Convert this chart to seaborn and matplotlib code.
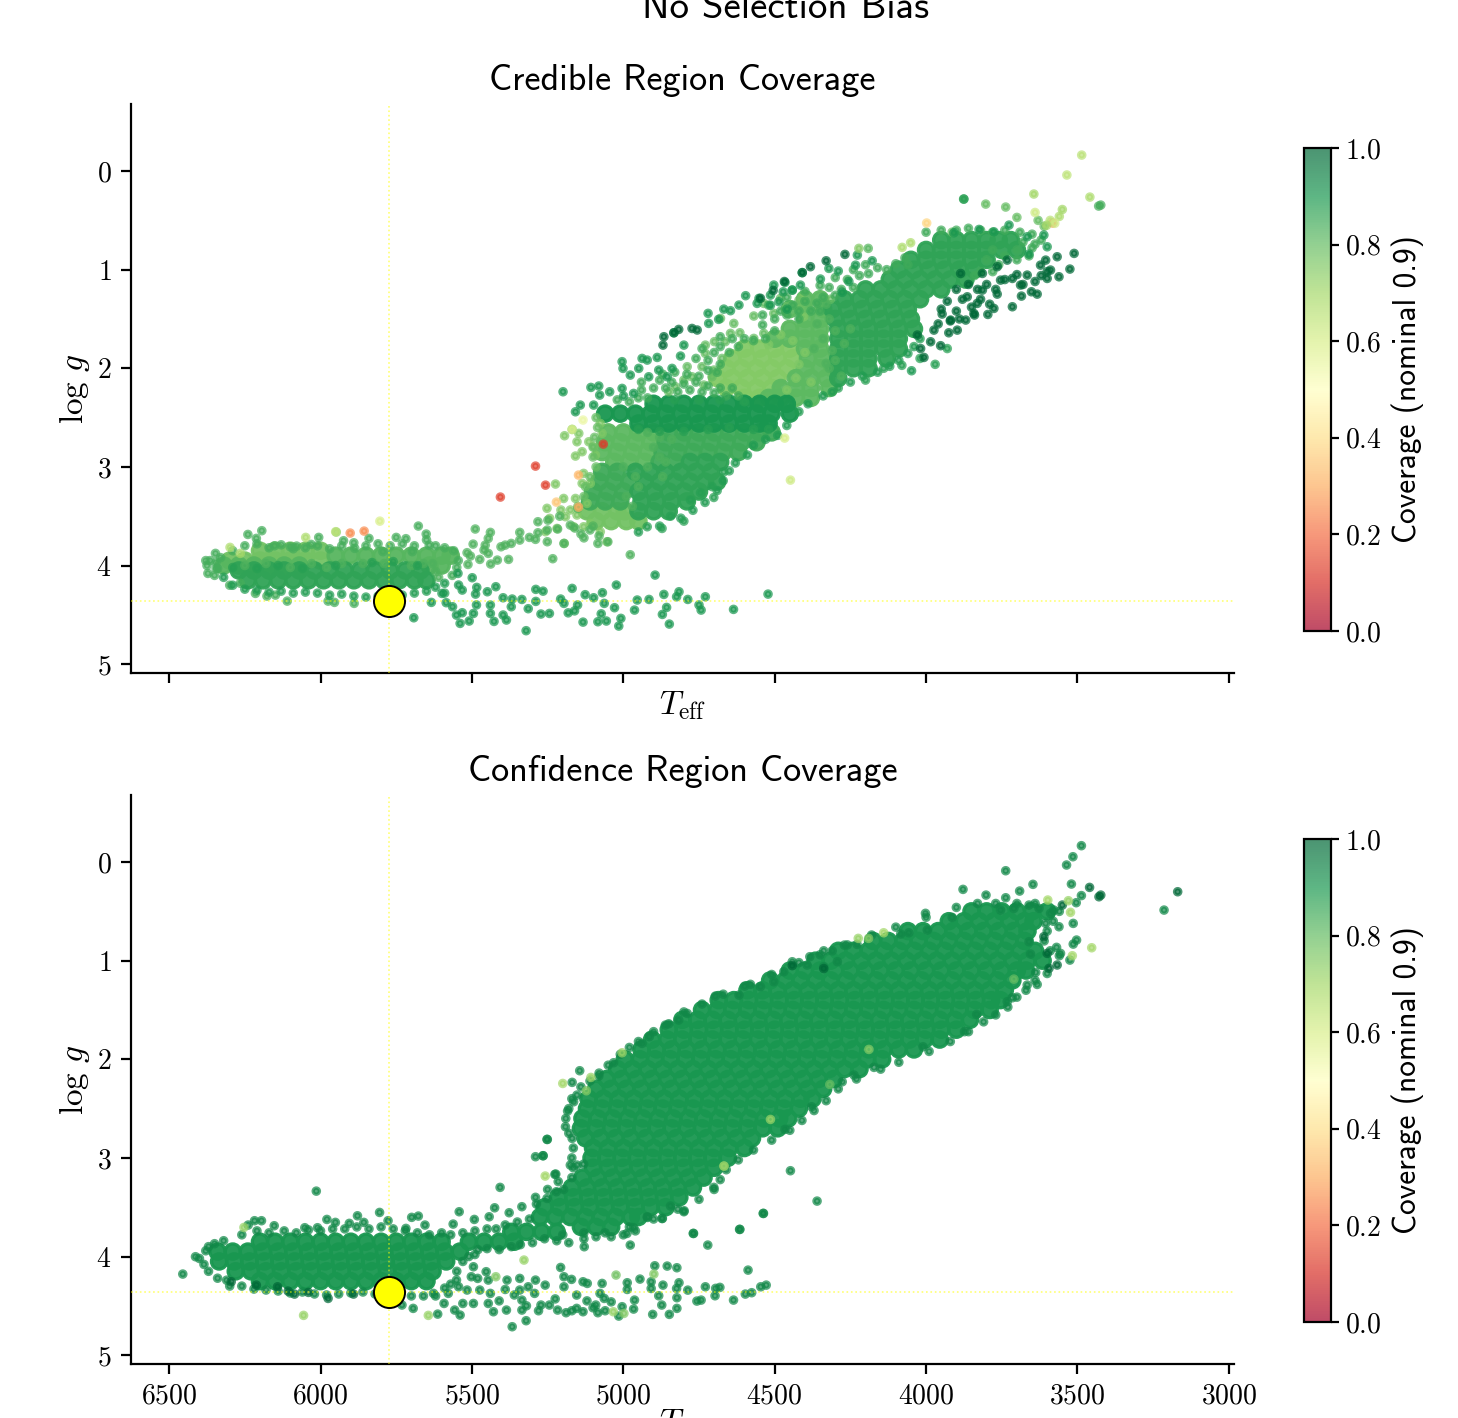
import matplotlib
matplotlib.use("Agg")
import matplotlib.pyplot as plt
import pandas as pd
import seaborn as sns
from matplotlib.cm import ScalarMappable
from matplotlib.colors import Normalize

SUN_TEFF = 5773
SUN_LOGG = 4.36
CBAR_TICKS = [0.0, 0.2, 0.4, 0.6, 0.8, 1.0]
X_TICKS = [6500, 6000, 5500, 5000, 4500, 4000, 3500, 3000]
Y_TICKS = [0, 1, 2, 3, 4, 5]

# ---- credible panel: dense parts, logg row -> teff values
cred_core_light = {
    1.8: [4600, 4550, 4500, 4450],
    1.9: [4640, 4590, 4540, 4490, 4440],
    2.0: [4660, 4610, 4560, 4510, 4460],
    2.1: [4690, 4640, 4590, 4540, 4490],
    2.2: [4660, 4610, 4560, 4510],
    2.3: [4600, 4550],
}
cred_core_mid = {
    1.3: [4350, 4400],
    1.4: [4340, 4400, 4450],
    1.5: [4400, 4350],
    1.6: [4450, 4400, 4350],
    1.7: [4500, 4450, 4400, 4350],
    1.8: [4400, 4350],
    1.9: [4390, 4340],
    2.0: [4400, 4350, 4310],
    2.1: [4430, 4380, 4330],
    2.2: [4480, 4430, 4380, 4320],
    2.3: [4520, 4480, 4430, 4380],
    2.65: [5050, 5000, 4950, 4900],
    2.75: [5060, 5010, 4960, 4910],
    2.85: [5070, 5020, 4970, 4920],
    2.95: [5030, 4980, 4930],
}
cred_core_deep = {
    0.7: [3950, 3900, 3850, 3800, 3760, 3720],
    0.8: [4000, 3950, 3900, 3850, 3800, 3750, 3700],
    0.9: [4050, 4000, 3950, 3900, 3850, 3800],
    1.0: [4090, 4040, 3990, 3940, 3890, 3840],
    1.1: [4120, 4070, 4020, 3970, 3920, 3870],
    1.2: [4200, 4150, 4100, 4050, 4000, 3950],
    1.3: [4270, 4220, 4170, 4120, 4070, 4020],
    1.4: [4310, 4260, 4210, 4160, 4110, 4060],
    1.5: [4300, 4250, 4200, 4150, 4100, 4050],
    1.6: [4290, 4240, 4190, 4140, 4090, 4040],
    1.7: [4290, 4240, 4190, 4140, 4090],
    1.8: [4290, 4240, 4190, 4140, 4090],
    1.9: [4290, 4240, 4190, 4130],
    2.0: [4290, 4240, 4190],
    2.1: [4290],
    4.05: [6270, 6220, 6170, 6120, 6070, 6020, 5970, 5920, 5870, 5820, 5770, 5720, 5670],
    4.15: [6240, 6190, 6140, 6090, 6040, 5990, 5940, 5890, 5840, 5790, 5740, 5690, 5650],
    2.95: [4780, 4730, 4680],
    3.05: [4960, 4910, 4860, 4810, 4760, 4710],
    3.15: [4930, 4880, 4830, 4780, 4730, 4690],
    3.25: [4950, 4900, 4850, 4800, 4750],
    3.35: [4940, 4890, 4840, 4790],
    3.45: [4950, 4900, 4850],
}
cred_core_band = {
    2.36: [4900, 4850, 4800, 4750, 4700, 4650, 4600, 4550, 4500, 4460],
    2.46: [5060, 5010, 4960, 4910, 4860, 4810, 4760, 4710, 4660, 4610, 4560, 4510, 4450],
    2.56: [4950, 4900, 4850, 4800, 4750, 4700, 4650, 4600, 4550, 4520],
}
cred_core_body = {
    2.65: [4850, 4800, 4750, 4700, 4650, 4600, 4550, 4510],
    2.75: [4860, 4810, 4760, 4710, 4660, 4610, 4560],
    2.85: [4870, 4820, 4770, 4720, 4670, 4620],
    2.95: [4880, 4830],
    3.05: [5070, 5020],
    3.15: [5080, 5030, 4980],
    3.25: [5100, 5050, 5000],
    3.35: [5110, 5060, 5010],
}
cred_core_pale = {
    3.45: [5120, 5070, 5020, 4995],
    3.55: [5090, 5040, 4990, 4950],
    3.85: [6200, 6150, 6100, 6050, 6000],
    3.95: [6300, 6250, 6200, 6150, 6100, 6050, 6000],
}
cred_core_dwarf = {
    3.9: [5950, 5900, 5850, 5800, 5750, 5700, 5650, 5600, 5570],
    4.0: [6320, 6270, 6220, 6170, 6120, 6070, 5640, 5600],
}

# ---- credible panel: points read one by one
cred_dwarf_teff = [4522, 4636, 4729, 4743, 4750, 4787, 4816, 4824, 4848, 4857, 4866, 4871, 4915, 4954, 4963, 4895, 5008, 5015, 5029, 5023, 5069, 5063, 5073, 5084, 5056, 5098, 5126, 5151, 5161, 5182, 5133, 5169, 5207, 5196, 5244, 5272, 5265, 5289, 5289, 5314, 5321, 5335, 5367, 5397, 5370, 5386, 5427, 5397, 5421, 5439, 5439, 5449, 5484, 5488, 5485, 5499, 5495, 5509, 5539, 5532, 5551, 5564, 5546, 5544, 5532, 5599, 5585, 5634, 5692]
cred_dwarf_logg = [4.29, 4.445, 4.317, 4.452, 4.4, 4.344, 4.266, 4.317, 4.594, 4.425, 4.293, 4.496, 4.344, 4.35, 4.452, 4.097, 4.536, 4.614, 4.428, 4.198, 4.276, 4.384, 4.49, 4.57, 4.563, 4.327, 4.296, 4.4, 4.46, 4.48, 4.574, 4.232, 4.34, 4.384, 4.486, 4.492, 4.26, 4.242, 4.364, 4.438, 4.661, 4.344, 4.34, 4.327, 4.418, 4.553, 4.567, 4.502, 4.215, 4.401, 4.486, 4.266, 4.222, 4.29, 4.4, 4.124, 4.486, 4.563, 4.587, 4.479, 4.503, 4.418, 4.08, 4.198, 4.249, 4.283, 4.377, 4.374, 4.53]
cred_wing_teff = [5489, 5439, 5446, 5456, 5460, 5446, 5496, 5516, 5505, 5474, 5513, 5438, 5416, 5379, 5233, 4977, 5404, 5390, 5370, 5342, 5310, 5290, 5342, 5282, 5251, 5249, 5282, 5217, 5251, 5196, 5051, 5084, 5175, 5140, 5110, 5080, 5130, 5160, 5210, 5100, 5150]
cred_wing_logg = [3.63, 3.664, 3.725, 3.793, 3.843, 3.877, 3.783, 3.87, 3.904, 3.938, 3.989, 3.985, 3.945, 3.938, 3.931, 3.891, 3.81, 3.793, 3.776, 3.742, 3.715, 3.735, 3.664, 3.668, 3.64, 3.54, 3.556, 3.63, 3.759, 3.776, 3.759, 3.776, 3.59, 3.68, 3.64, 3.7, 3.72, 3.62, 3.5, 3.6, 3.42]
cred_dark_teff = [3511, 3525, 3561, 3567, 3600, 3605, 3622, 3589, 3633, 3652, 3666, 3685, 3715, 3688, 3715, 3754, 3765, 3776, 3796, 3814, 3842, 3869, 3897, 3925, 3919, 3947, 3952, 3974, 3985, 4007, 4018, 4029, 3831, 3864, 3886, 3814, 3765, 3732, 4268, 4330, 4382, 4409, 4468, 4505, 4547, 4866, 4869, 4833, 4773, 4756, 4817, 3700, 3740, 3680, 3640, 3600, 3620, 3800, 3770, 3830, 3860, 3900, 3880, 3820, 3790, 3850, 3900, 3930, 3950, 3960, 3920, 3890, 3840]
cred_dark_logg = [0.835, 0.994, 1.072, 0.869, 1.089, 0.903, 0.954, 1.004, 1.248, 1.224, 1.055, 1.268, 1.376, 1.156, 1.089, 1.106, 1.248, 1.393, 1.454, 1.207, 1.444, 1.511, 1.613, 1.64, 1.511, 1.45, 1.771, 1.613, 1.731, 1.89, 1.8, 1.663, 1.342, 1.275, 1.038, 1.038, 0.97, 0.903, 0.845, 0.91, 0.97, 1.03, 1.12, 1.21, 1.29, 1.68, 1.765, 1.64, 1.596, 1.612, 1.606, 1.05, 1.1, 1.15, 1.12, 1.02, 1.06, 1.15, 1.2, 1.2, 1.15, 1.2, 1.3, 1.3, 1.35, 1.38, 1.42, 1.32, 1.4, 1.55, 1.52, 1.5, 1.46]
cred_strand_teff = [4409, 4466, 4442, 4415, 4503, 4514, 4552, 4596, 4558, 4618, 4646, 4668, 4720, 4685, 4718, 4833, 4800, 4888, 4921, 4938, 5004, 5001, 4949, 4977, 4916, 5004, 4883, 4839, 4811, 4855, 5045, 5081, 5107, 5078, 5199, 4966, 4999, 5142, 5158, 5098, 4321, 4227, 4178, 4233, 4290, 4349, 4442, 4472, 4486, 4459, 4514, 4277, 4255, 4048, 3875, 3908, 3825, 3776, 3726, 3611, 3666, 3600, 3660]
cred_strand_logg = [1.03, 1.129, 1.207, 1.156, 1.156, 1.258, 1.291, 1.264, 1.342, 1.359, 1.416, 1.4, 1.443, 1.504, 1.545, 1.64, 1.765, 1.89, 1.917, 1.9, 1.933, 2.001, 2.001, 2.069, 2.086, 2.204, 2.018, 2.001, 1.876, 2.086, 2.238, 2.18, 2.194, 2.272, 2.238, 2.255, 2.282, 2.373, 2.441, 2.373, 0.987, 0.852, 0.91, 0.954, 1.014, 1.095, 1.207, 1.224, 1.325, 1.4, 1.36, 1.23, 1.12, 2.025, 0.284, 0.626, 0.592, 0.616, 0.548, 0.649, 0.666, 0.768, 0.842]
cred_upper_teff = [4729, 4729, 4699, 4663, 4646, 4615, 4569, 4536, 4635, 4679, 4569, 4503, 4459, 4536, 4481, 4674, 4701, 4707, 4734, 4789, 4740, 4773, 4800, 4828, 4850, 4420, 4409, 4316, 3803, 3737, 3914, 3700, 3630, 3610, 5090, 5085, 5095, 5100, 5100, 5090, 5110, 5125, 5130, 5150]
cred_upper_logg = [1.765, 1.849, 1.73, 1.73, 1.646, 1.64, 1.697, 1.646, 1.545, 1.494, 1.47, 1.443, 1.4, 1.342, 1.291, 1.9, 2.018, 2.086, 2.17, 1.984, 1.984, 2.086, 2.12, 2.187, 2.238, 1.31, 1.393, 1.3, 0.335, 0.365, 0.62, 0.47, 0.5, 0.56, 2.5, 2.6, 2.7, 2.8, 2.9, 3.0, 3.1, 3.2, 3.3, 3.4]
cred_fill_teff = [4940, 4900, 4860, 4820, 4780, 4740, 4700, 4660, 4620, 4940, 4880, 4840, 4800, 4760, 4720, 4680, 4640, 4870, 4830, 4790, 4750, 4720, 4690, 4680, 4720, 4760, 4700, 4740, 4680, 4650, 4620, 4600, 4570, 4530, 4640, 4680, 5020, 4980, 4950, 4920, 4500, 4540, 4500, 4460, 4420, 4380, 4440, 4400, 4360, 4340, 4300, 4320, 4280, 4260, 4240, 4220, 4190, 4160, 4130, 4100, 4070, 4060, 4200, 4240, 4300, 4350, 4400, 4460, 4520, 4480, 4540, 4350, 4420, 4000, 3950, 3900, 3860, 3820, 3780, 3740, 3690, 3650, 3620, 3640, 3680, 3700, 3650, 3660, 3700, 3740, 3780, 3760, 3800, 3820, 3780, 3840]
cred_fill_logg = [2.22, 2.2, 2.2, 2.24, 2.22, 2.24, 2.25, 2.28, 2.28, 2.14, 2.12, 2.14, 2.16, 2.14, 2.18, 2.2, 2.2, 2.06, 2.04, 2.06, 2.08, 2.02, 2.04, 1.96, 1.92, 1.9, 1.84, 1.8, 1.78, 1.84, 1.78, 1.7, 1.72, 1.7, 1.7, 1.68, 2.32, 2.34, 2.3, 2.3, 1.62, 1.56, 1.5, 1.46, 1.5, 1.42, 1.36, 1.32, 1.34, 1.28, 1.26, 1.18, 1.2, 1.1, 1.18, 1.06, 1.04, 0.98, 1.0, 0.94, 0.88, 0.95, 0.95, 1.0, 1.08, 1.16, 1.22, 1.28, 1.36, 1.42, 1.46, 1.42, 1.42, 0.62, 0.6, 0.6, 0.58, 0.6, 0.62, 0.6, 0.62, 0.64, 0.7, 0.74, 0.72, 0.8, 0.78, 0.86, 0.9, 0.86, 0.8, 0.95, 0.9, 1.02, 1.02, 1.06]
cred_lower_teff = [4020, 4040, 4060, 4090, 4120, 4160, 4210, 4250, 4310, 4340, 4390, 4420, 4460, 4490, 4530, 4570, 4590, 4630, 4650, 4670, 4690, 4730, 4770, 4810, 4880, 4950, 6320, 6290, 6250, 6210, 6170, 6130, 6090, 6050, 6010, 5970, 5930, 5890, 5850, 5810, 5770, 5730, 5690, 5650, 5620, 5590, 5590]
cred_lower_logg = [1.7, 1.78, 1.85, 1.92, 1.98, 2.04, 2.08, 2.14, 2.24, 2.28, 2.36, 2.44, 2.58, 2.68, 2.72, 2.78, 2.88, 2.96, 3.04, 3.14, 3.24, 3.36, 3.44, 3.52, 3.6, 3.66, 4.12, 4.2, 4.24, 4.25, 4.27, 4.26, 4.28, 4.27, 4.28, 4.3, 4.29, 4.31, 4.32, 4.31, 4.33, 4.3, 4.28, 4.26, 4.22, 4.28, 4.18]
cred_left_teff = [5169, 5147, 5194, 5153, 5114, 5136, 5158, 5092, 5076, 5070, 5098, 5224, 5131, 5136, 5109, 5158, 5197, 5252, 5206, 5153, 5243, 5219, 5257, 5195, 5131, 5054, 5109, 5164, 5191, 5076, 5120, 5175, 4415, 4409, 4404]
cred_left_logg = [2.62, 2.66, 2.684, 2.745, 2.745, 2.846, 2.89, 2.88, 2.559, 2.66, 2.795, 3.174, 3.066, 3.167, 3.167, 3.32, 3.32, 3.42, 3.437, 3.488, 3.522, 3.624, 3.657, 3.776, 3.607, 3.759, 3.573, 3.607, 3.505, 3.657, 3.37, 3.437, 1.393, 1.291, 1.477]
cred_low_teff = [6240, 6194, 6212, 6152, 6100, 6079, 6006, 6031, 5924, 5840, 5887, 5750, 5718, 5677, 5651, 5641, 5697, 5794, 6379, 6347, 6372, 6265, 6215, 6149, 6110, 5975, 5954, 5889, 6177, 6340, 6300, 6290, 6250, 6210, 6170, 6130, 6090, 6050, 6010, 5970, 5930, 5890, 5850, 5810, 5770, 5730, 5690, 5650, 5620, 5590, 5560, 5545, 5550, 5565, 6375, 6365, 6345, 6345, 6330, 6350]
cred_low_logg = [3.685, 3.647, 3.725, 3.8, 3.81, 3.803, 3.715, 3.786, 3.749, 3.725, 3.826, 3.715, 3.728, 3.6, 3.681, 3.793, 3.86, 3.86, 3.95, 3.877, 4.08, 4.18, 4.283, 4.3, 4.361, 4.361, 4.374, 4.384, 4.31, 4.03, 4.2, 3.85, 3.8, 3.78, 3.82, 3.79, 3.83, 3.82, 3.8, 3.83, 3.8, 3.77, 3.8, 3.78, 3.8, 3.78, 3.8, 3.74, 3.8, 3.82, 3.85, 3.95, 4.02, 4.1, 4.0, 3.95, 4.03, 3.97, 3.92, 4.1]
cred_deep_teff = [4800, 4872, 4921, 4701, 4745, 4707, 4844, 4668, 4778, 3970, 3930, 4020, 4080, 4140, 4200, 4290]
cred_deep_logg = [3.55, 3.624, 3.607, 3.31, 3.262, 3.2, 3.5, 3.05, 3.336, 1.96, 1.8, 1.9, 1.97, 2.0, 2.12, 2.2]
cred_blend_teff = [4330, 4320, 4300, 4340, 4310, 4300, 4320, 4280, 4270, 4250, 4360, 4370, 4330, 4880, 4900, 4880, 4920, 4870, 4960, 4950, 4990, 4970, 5000, 4840, 4860, 4920, 6250, 6180, 6100, 6030, 5980, 5930, 5860, 5790, 5700, 5660, 5620, 5610, 5630]
cred_blend_logg = [1.35, 1.5, 1.62, 1.7, 1.82, 1.92, 2.0, 2.08, 1.75, 1.6, 1.55, 1.8, 1.95, 2.7, 2.8, 2.9, 3.0, 3.1, 3.1, 3.2, 3.3, 3.4, 3.0, 2.72, 2.95, 2.65, 4.0, 3.98, 4.02, 3.98, 4.02, 3.98, 3.98, 3.98, 4.0, 3.98, 4.06, 4.12, 3.98]
cred_speck_teff = [4950, 4880, 4800, 4720, 4650, 4570, 4520, 4830, 4750, 4680, 4600, 6290, 6210, 6140, 6060, 5950, 5830, 5760, 5680]
cred_speck_logg = [2.62, 2.64, 2.64, 2.62, 2.6, 2.62, 2.62, 2.32, 2.32, 2.32, 2.34, 4.02, 4.03, 4.0, 4.03, 4.0, 3.97, 3.96, 4.0]
cred_pale_teff = [4460, 4430, 4420, 4400, 4440, 4480, 4520, 4380]
cred_pale_logg = [2.22, 2.1, 1.96, 1.84, 1.72, 1.66, 1.76, 2.14]
cred_odd_teff = [5406, 5290, 5257, 5148, 5221, 5148, 5066, 5856, 5902, 5804, 5948, 3998, 3582, 4448, 3486, 3535, 3459, 3423, 3430, 3644, 4467, 3876, 5133, 5169, 6299, 6049, 5950, 6265, 4051, 4079, 4222, 4191, 3640, 3590, 3560, 3550, 3575, 3602]
cred_odd_logg = [3.306, 2.992, 3.185, 3.083, 3.357, 3.408, 2.769, 3.651, 3.671, 3.55, 3.661, 0.527, 0.527, 3.134, -0.162, 0.04, 0.264, 0.345, 0.355, 0.233, 2.708, 0.284, 2.525, 2.62, 3.816, 3.715, 3.657, 3.877, 0.727, 0.774, 0.784, 0.784, 0.42, 0.5, 0.46, 0.39, 0.53, 0.55]
cred_odd_cov = [0.13, 0.13, 0.13, 0.32, 0.35, 0.3, 0.12, 0.25, 0.25, 0.6, 0.74, 0.38, 0.25, 0.62, 0.66, 0.65, 0.68, 0.84, 0.84, 0.7, 0.6, 0.87, 0.55, 0.6, 0.68, 0.68, 0.66, 0.7, 0.68, 0.68, 0.75, 0.82, 0.62, 0.66, 0.68, 0.7, 0.62, 0.7]

# ---- confidence panel: dense part, logg row -> teff values
conf_core = {
    0.5: [3850, 3800, 3750, 3700, 3650, 3600],
    0.6: [3925, 3875, 3825, 3775, 3725, 3675, 3645],
    0.7: [4060, 4010, 3960, 3910, 3860, 3810, 3760, 3710, 3665],
    0.8: [4175, 4125, 4075, 4025, 3975, 3925, 3875, 3825, 3775, 3725, 3675],
    0.9: [4290, 4240, 4190, 4140, 4090, 4040, 3990, 3940, 3890, 3840, 3790, 3740, 3690, 3640],
    1.0: [4365, 4315, 4265, 4215, 4165, 4115, 4065, 4015, 3965, 3915, 3865, 3815, 3765, 3715, 3665, 3615],
    1.1: [4450, 4400, 4350, 4300, 4250, 4200, 4150, 4100, 4050, 4000, 3950, 3900, 3850, 3800, 3750, 3700, 3670],
    1.2: [4515, 4465, 4415, 4365, 4315, 4265, 4215, 4165, 4115, 4065, 4015, 3965, 3915, 3865, 3815, 3765, 3715],
    1.3: [4590, 4540, 4490, 4440, 4390, 4340, 4290, 4240, 4190, 4140, 4090, 4040, 3990, 3940, 3890, 3840, 3790, 3740],
    1.4: [4685, 4635, 4585, 4535, 4485, 4435, 4385, 4335, 4285, 4235, 4185, 4135, 4085, 4035, 3985, 3935, 3885, 3835, 3785, 3755],
    1.5: [4740, 4690, 4640, 4590, 4540, 4490, 4440, 4390, 4340, 4290, 4240, 4190, 4140, 4090, 4040, 3990, 3940, 3890, 3840, 3790],
    1.6: [4805, 4755, 4705, 4655, 4605, 4555, 4505, 4455, 4405, 4355, 4305, 4255, 4205, 4155, 4105, 4055, 4005, 3955, 3905, 3855],
    1.7: [4850, 4800, 4750, 4700, 4650, 4600, 4550, 4500, 4450, 4400, 4350, 4300, 4250, 4200, 4150, 4100, 4050, 4000, 3950, 3900],
    1.8: [4905, 4855, 4805, 4755, 4705, 4655, 4605, 4555, 4505, 4455, 4405, 4355, 4305, 4255, 4205, 4155, 4105, 4055, 4005, 3955],
    1.9: [4940, 4890, 4840, 4790, 4740, 4690, 4640, 4590, 4540, 4490, 4440, 4390, 4340, 4290, 4240, 4190, 4140, 4090, 4040],
    2.0: [4995, 4945, 4895, 4845, 4795, 4745, 4695, 4645, 4595, 4545, 4495, 4445, 4395, 4345, 4295, 4245, 4195, 4145],
    2.1: [5020, 4970, 4920, 4870, 4820, 4770, 4720, 4670, 4620, 4570, 4520, 4470, 4420, 4370, 4320, 4270, 4220],
    2.2: [5055, 5005, 4955, 4905, 4855, 4805, 4755, 4705, 4655, 4605, 4555, 4505, 4455, 4405, 4355, 4305],
    2.3: [5090, 5040, 4990, 4940, 4890, 4840, 4790, 4740, 4690, 4640, 4590, 4540, 4490, 4440, 4390, 4340],
    2.4: [5115, 5065, 5015, 4965, 4915, 4865, 4815, 4765, 4715, 4665, 4615, 4565, 4515, 4465, 4415, 4375],
    2.5: [5120, 5070, 5020, 4970, 4920, 4870, 4820, 4770, 4720, 4670, 4620, 4570, 4520, 4470, 4420],
    2.6: [5135, 5085, 5035, 4985, 4935, 4885, 4835, 4785, 4735, 4685, 4635, 4585, 4535, 4485, 4455],
    2.7: [5140, 5090, 5040, 4990, 4940, 4890, 4840, 4790, 4740, 4690, 4640, 4590, 4540, 4490],
    2.8: [5125, 5075, 5025, 4975, 4925, 4875, 4825, 4775, 4725, 4675, 4625, 4575],
    2.9: [5100, 5050, 5000, 4950, 4900, 4850, 4800, 4750, 4700, 4650, 4600],
    3.0: [5105, 5055, 5005, 4955, 4905, 4855, 4805, 4755, 4705, 4655],
    3.1: [5100, 5050, 5000, 4950, 4900, 4850, 4800, 4750, 4700],
    3.2: [5135, 5085, 5035, 4985, 4935, 4885, 4835, 4785, 4735],
    3.3: [5170, 5120, 5070, 5020, 4970, 4920, 4870, 4820, 4770],
    3.4: [5215, 5165, 5115, 5065, 5015, 4965, 4915, 4865, 4815],
    3.5: [5260, 5210, 5160, 5110, 5060, 5010, 4960, 4910, 4860],
    3.6: [5275, 5225, 5175, 5125, 5075, 5025, 4975, 4950],
    3.7: [5140, 5090, 5040],
    3.75: [5370, 5320, 5270, 5220],
    3.85: [6200, 6150, 6100, 6050, 6000, 5950, 5900, 5850, 5800, 5750, 5700, 5650, 5600, 5510, 5460, 5410, 5360],
    3.95: [6340, 6290, 6240, 6190, 6140, 6090, 6040, 5990, 5940, 5890, 5840, 5790, 5740, 5690, 5640, 5590, 5540],
    4.05: [6335, 6285, 6235, 6185, 6135, 6085, 6035, 5985, 5935, 5885, 5835, 5785, 5735, 5685, 5635, 5585],
    4.15: [6280, 6230, 6180, 6130, 6080, 6030, 5980, 5930, 5880, 5830, 5780, 5730, 5680, 5630],
    4.25: [6200, 6150, 6100, 6050, 6000, 5950, 5900, 5850, 5800, 5750, 5700, 5650],
}

# ---- confidence panel: points read one by one
conf_low_teff = [6455, 6413, 6379, 6014, 5805, 5878, 5979, 5951, 6153, 6195, 6218, 6239, 6052, 6010, 5905, 5857, 5777, 5699, 5677, 5655, 5718, 5542, 5562, 5492, 5443, 5425, 5407, 5377, 5335, 5287, 5251, 5290, 5265, 5223, 5129, 4977, 4871, 4920, 4799, 4768, 4721, 4615, 4537, 4896, 4855, 4823, 4588, 4528, 4546, 4576, 4597, 4636, 4681, 4695, 4729, 4697, 4743, 4757, 4787, 4816, 4824, 4823, 4823, 4848, 4903, 4869, 4908, 4908, 4883, 4873, 4945, 4987, 4987, 4963, 4966, 5004, 5015, 5070, 5133, 5119, 5196, 5171, 5207, 5196, 5154, 5077, 5063, 5091, 5084, 5133, 5154, 5189, 5217, 5244, 5272, 5321, 5367, 5342, 5290, 5258, 5384, 5390, 5342, 5314, 5293, 5335, 5335, 5386, 5429, 5446, 5495, 5539, 5557, 5613, 5694, 5731, 5592, 5530, 5439, 5474, 5516, 5544, 5502, 5453, 5481, 5495, 5446, 5551, 5578, 5627, 5100, 5040, 5170, 5225, 5280, 5320, 5410, 5360, 5120, 5060]
conf_low_logg = [4.178, 4.002, 3.942, 3.337, 3.553, 3.587, 3.624, 3.654, 3.688, 3.637, 3.637, 3.681, 3.708, 3.708, 3.664, 3.654, 3.637, 3.603, 3.59, 3.681, 3.715, 3.546, 3.671, 3.624, 3.597, 3.506, 3.299, 3.556, 3.495, 3.468, 2.813, 2.988, 2.978, 3.164, 3.901, 3.884, 3.614, 3.604, 3.536, 3.766, 3.884, 3.725, 3.563, 4.094, 4.097, 4.114, 4.138, 4.29, 4.307, 4.367, 4.381, 4.442, 4.313, 4.323, 4.307, 4.398, 4.442, 4.452, 4.341, 4.266, 4.324, 4.418, 4.526, 4.587, 4.587, 4.29, 4.256, 4.324, 4.398, 4.492, 4.229, 4.266, 4.334, 4.442, 4.533, 4.509, 4.604, 4.273, 4.256, 4.273, 4.205, 4.232, 4.111, 4.307, 4.391, 4.374, 4.425, 4.492, 4.57, 4.56, 4.526, 4.57, 4.543, 4.492, 4.492, 4.651, 4.712, 4.222, 4.239, 4.29, 4.239, 4.334, 4.34, 4.307, 4.374, 4.442, 4.543, 4.543, 4.56, 4.476, 4.476, 4.594, 4.543, 4.584, 4.526, 4.492, 4.476, 4.476, 4.374, 4.34, 4.34, 4.307, 4.205, 4.154, 4.222, 4.104, 4.239, 4.239, 4.374, 4.374, 4.52, 4.46, 4.55, 4.43, 4.55, 4.5, 4.45, 4.39, 4.45, 4.55]
conf_edge_teff = [4599, 4696, 4789, 4817, 4861, 4914, 4938, 5032, 5081, 5144, 5169, 5153, 5164, 5184, 5191, 5169, 5252, 5265, 5175, 5153, 5131, 5226, 5221, 5252, 5197, 4277, 4378, 4448, 4360, 4538, 4616, 4769, 4800, 4872, 4701, 4466, 4172, 4238, 4921, 4988, 4966, 4844, 4668, 4618, 4503, 4547, 4470, 4393, 4442, 4338, 4293, 3487, 3515, 3536, 3520, 3487, 3504, 3737, 3878, 3802, 3691, 3647, 3737, 4002, 3214, 3514, 3561, 3503, 3514, 3525, 3556, 3569, 3655, 3633, 3638, 3666, 3732, 3715, 3873, 3833, 4010, 4228, 4270, 3914, 3996, 4084, 4057, 4384, 4338, 4310, 3754, 3710, 3660, 3627, 3578, 3605, 3589, 3660]
conf_edge_logg = [1.258, 1.359, 1.535, 1.602, 1.653, 1.771, 1.839, 2.035, 2.17, 2.116, 2.234, 2.363, 2.431, 2.525, 2.684, 2.802, 2.812, 2.978, 3.073, 3.073, 3.063, 3.167, 3.343, 3.411, 3.32, 2.228, 2.481, 3.13, 3.438, 3.563, 3.725, 3.766, 3.546, 3.614, 3.299, 2.711, 2.082, 2.16, 3.597, 3.766, 3.708, 3.488, 3.09, 1.349, 1.214, 1.264, 1.112, 1.045, 1.011, 1.06, 1.01, -0.166, -0.054, 0.03, 0.223, 0.34, 0.412, 0.088, 0.277, 0.335, 0.294, 0.226, 0.362, 0.52, 0.487, 0.622, 0.656, 0.791, 0.832, 0.994, 0.926, 0.865, 0.933, 1.241, 1.119, 1.247, 1.416, 1.376, 1.72, 1.545, 1.873, 0.835, 0.842, 0.561, 0.69, 0.73, 0.717, 0.96, 0.9, 0.9, 0.487, 0.47, 0.436, 0.47, 0.487, 0.622, 0.52, 0.808]
conf_rim_teff = [6260, 6210, 6170, 6120, 6080, 6040, 6000, 5960, 5920, 5880, 5840, 5800, 5760, 5720, 5680, 5640, 5600, 5570, 5530, 5490, 5450, 5420, 5390, 5350, 5310, 5480, 5450, 5410, 5370, 5340, 5300, 5260, 5220, 5180, 5130, 5090, 5040, 5000, 4960, 6300, 6260, 6220, 6180, 6140, 6100, 6060, 6020, 5980, 5940, 5900, 5860, 5820, 5780, 5740, 5700, 5660, 5620, 5590, 5570, 5550, 5530, 5510, 5490, 6400, 6385, 6370, 6370, 6340, 6310, 6350, 6320, 5290, 5250, 5215, 5170, 5165, 5170, 5165, 5180, 5190, 5180, 5170, 5140, 5110, 5080, 5050, 5010, 4980, 4950, 4900, 4850, 4800, 4740, 4670, 4580, 4510, 4420, 4350, 4260, 4180, 4100, 4000, 3900, 3830, 3770, 3700, 3640, 3560, 3580, 3600, 3610, 3590, 3560, 3600, 3640, 3670, 3700, 3730, 3770, 3810, 3860, 3920, 3990, 4090, 4150, 4230, 4290, 4330, 4370, 4410, 4450, 4510, 4570, 4620, 4660, 4680, 4700, 4750, 4820, 4900, 4980, 5060, 5130, 5200]
conf_rim_logg = [3.78, 3.74, 3.76, 3.74, 3.76, 3.73, 3.74, 3.72, 3.72, 3.7, 3.72, 3.7, 3.72, 3.74, 3.76, 3.78, 3.76, 3.78, 3.76, 3.74, 3.72, 3.72, 3.68, 3.65, 3.62, 3.93, 3.92, 3.93, 3.9, 3.88, 3.86, 3.82, 3.84, 3.86, 3.82, 3.8, 3.8, 3.78, 3.74, 4.3, 4.3, 4.33, 4.34, 4.35, 4.37, 4.36, 4.38, 4.39, 4.38, 4.37, 4.36, 4.38, 4.37, 4.4, 4.4, 4.4, 4.4, 4.32, 4.28, 4.15, 4.05, 4.0, 3.98, 4.02, 4.08, 3.9, 4.15, 4.22, 4.24, 3.87, 3.84, 3.4, 3.32, 3.24, 3.2, 3.1, 3.0, 2.9, 2.75, 2.6, 2.5, 2.4, 2.28, 2.22, 2.14, 2.06, 1.95, 1.88, 1.82, 1.72, 1.64, 1.52, 1.44, 1.34, 1.24, 1.14, 1.02, 0.94, 0.84, 0.74, 0.66, 0.56, 0.46, 0.42, 0.42, 0.42, 0.42, 0.5, 0.6, 0.7, 0.8, 0.9, 0.95, 1.13, 1.2, 1.3, 1.37, 1.47, 1.55, 1.62, 1.72, 1.82, 1.92, 2.03, 2.1, 2.2, 2.3, 2.42, 2.52, 2.62, 2.72, 2.82, 2.92, 3.02, 3.12, 3.22, 3.32, 3.42, 3.52, 3.62, 3.7, 3.76, 3.76, 3.78]
conf_dark_teff = [6295, 6212, 6142, 6107, 6086, 6040, 5975, 5891, 3460, 3423, 3429, 3169, 3600, 3567, 3594, 3550, 3611, 4442, 4338]
conf_dark_logg = [4.256, 4.29, 4.307, 4.351, 4.381, 4.364, 4.425, 4.381, 0.257, 0.335, 0.352, 0.301, 0.926, 1.044, 1.078, 0.436, 0.757, 1.05, 1.08]
conf_light_teff = [6056, 5644, 5328, 5421, 5024, 4899, 5033, 4998, 5258, 4667, 6253, 5004, 5107, 5200, 5122, 4514, 4668, 4189, 4318, 3598, 3530, 3523, 3453, 3517, 4140, 4190, 4224, 3710]
conf_light_logg = [4.597, 4.597, 4.036, 4.205, 4.188, 4.178, 4.56, 4.577, 3.184, 3.083, 3.705, 1.934, 2.184, 2.245, 2.319, 2.61, 3.083, 1.9, 2.255, 0.385, 0.392, 0.51, 0.869, 0.95, 0.717, 0.774, 0.774, 1.187]
conf_light_cov = [0.72, 0.72, 0.72, 0.75, 0.78, 0.75, 0.72, 0.75, 0.7, 0.75, 0.72, 0.72, 0.72, 0.7, 0.75, 0.72, 0.72, 0.75, 0.8, 0.7, 0.72, 0.7, 0.7, 0.7, 0.7, 0.75, 0.72, 0.8]


def from_rows(table, cov):
    rows = [(t, g, cov) for g, teffs in table.items() for t in teffs]
    return pd.DataFrame(rows, columns=["teff", "logg", "cov"])


def from_points(teff, logg, cov):
    return pd.DataFrame({"teff": teff, "logg": logg, "cov": cov})


def px_axes(fig, x0, y0, x1, y1):
    w, h = fig.get_size_inches() * fig.dpi
    return fig.add_axes([x0 / w, 1 - y1 / h, (x1 - x0) / w, (y1 - y0) / h])


def draw_panel(fig, top, core, fuzz, title, show_x):
    ax = px_axes(fig, 131, top, 1234, top + 569)
    common = dict(x="teff", y="logg", hue="cov", palette="RdYlGn", hue_norm=(0, 1),
                  edgecolor="face", legend=False, ax=ax)
    sns.scatterplot(data=core, s=30, alpha=0.95, linewidth=1.2, **common)
    sns.scatterplot(data=fuzz, s=5, alpha=0.7, linewidth=1.2, **common)
    ax.axvline(SUN_TEFF, color="yellow", ls=":", lw=0.6, alpha=0.55, zorder=4)
    ax.axhline(SUN_LOGG, color="yellow", ls=":", lw=0.6, alpha=0.55, zorder=4)
    ax.scatter([SUN_TEFF], [SUN_LOGG], s=125, color="yellow", edgecolor="black", lw=0.7, zorder=5)
    ax.set_xlim(6626, 2983)
    ax.set_ylim(5.09, -0.68)
    ax.set_xticks(X_TICKS)
    ax.set_yticks(Y_TICKS)
    if not show_x:
        ax.set_xticklabels([])
    ax.set_xlabel(r"$T_{\rm eff}$", fontsize=12, labelpad=-1)
    ax.set_ylabel(r"$\log\,g$", fontsize=12, labelpad=1.5)
    ax.set_title(title, family="cmss10", fontsize=13, pad=5)
    sns.despine(ax=ax)

    cax = px_axes(fig, 1304, top + 44, 1331, top + 527)
    sm = ScalarMappable(norm=Normalize(0, 1), cmap="RdYlGn")
    cbar = fig.colorbar(sm, cax=cax, alpha=0.7, ticks=CBAR_TICKS)
    cbar.ax.tick_params(length=3, pad=2)
    cbar.set_label("Coverage (nominal 0.9)", family="cmss10", fontsize=11.3, labelpad=3.5)


sns.set_theme(style="ticks")
plt.rcParams["font.family"] = ["cmr10"]
plt.rcParams["mathtext.fontset"] = "cm"
plt.rcParams["axes.formatter.use_mathtext"] = True
plt.rcParams["axes.unicode_minus"] = False
plt.rcParams["xtick.labelsize"] = 10
plt.rcParams["ytick.labelsize"] = 10
plt.rcParams["text.color"] = "black"
plt.rcParams["axes.labelcolor"] = "black"
plt.rcParams["axes.edgecolor"] = "black"
plt.rcParams["xtick.color"] = "black"
plt.rcParams["ytick.color"] = "black"
plt.rcParams["axes.linewidth"] = 0.8
plt.rcParams["xtick.major.width"] = 0.8
plt.rcParams["ytick.major.width"] = 0.8
plt.rcParams["xtick.major.size"] = 3.5
plt.rcParams["ytick.major.size"] = 3.5

cred_core = pd.concat([
    from_rows(cred_core_pale, 0.78), from_rows(cred_core_light, 0.75),
    from_rows(cred_core_mid, 0.81), from_rows(cred_core_dwarf, 0.82),
    from_rows(cred_core_body, 0.85), from_rows(cred_core_deep, 0.87),
    from_rows(cred_core_band, 0.9),
])
cred_fuzz = pd.concat([
    from_points(cred_left_teff, cred_left_logg, 0.76),
    from_points(cred_pale_teff, cred_pale_logg, 0.76),
    from_points(cred_upper_teff, cred_upper_logg, 0.8),
    from_points(cred_wing_teff, cred_wing_logg, 0.83),
    from_points(cred_blend_teff, cred_blend_logg, 0.83),
    from_points(cred_low_teff, cred_low_logg, 0.84),
    from_points(cred_fill_teff, cred_fill_logg, 0.85),
    from_points(cred_speck_teff, cred_speck_logg, 0.88),
    from_points(cred_lower_teff, cred_lower_logg, 0.89),
    from_points(cred_deep_teff, cred_deep_logg, 0.88),
    from_points(cred_dwarf_teff, cred_dwarf_logg, 0.9),
    from_points(cred_strand_teff, cred_strand_logg, 0.9),
    from_points(cred_dark_teff, cred_dark_logg, 1.0),
    from_points(cred_odd_teff, cred_odd_logg, cred_odd_cov),
])
conf_core_df = from_rows(conf_core, 0.9)
conf_fuzz = pd.concat([
    from_points(conf_low_teff, conf_low_logg, 0.93),
    from_points(conf_edge_teff, conf_edge_logg, 0.93),
    from_points(conf_rim_teff, conf_rim_logg, 0.93),
    from_points(conf_dark_teff, conf_dark_logg, 1.0),
    from_points(conf_light_teff, conf_light_logg, conf_light_cov),
])

fig = plt.figure(figsize=(7.29, 7.09), dpi=200)
draw_panel(fig, 104, cred_core, cred_fuzz, "Credible Region Coverage", False)
draw_panel(fig, 795, conf_core_df, conf_fuzz, "Confidence Region Coverage", True)
fig.text(786 / 1458, 1 - 8 / 1418, "No Selection Bias", family="cmss10", fontsize=14,
         ha="center", va="center")
fig.savefig("out.png", dpi=200)
